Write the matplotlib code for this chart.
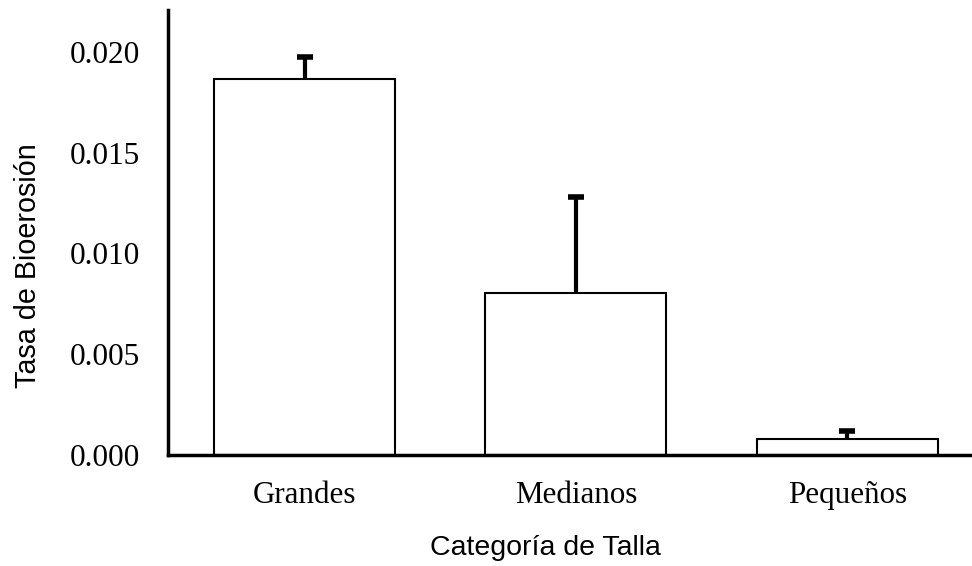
import matplotlib
matplotlib.use("Agg")
import matplotlib.pyplot as plt

categories = ["Grandes", "Medianos", "Pequeños"]
means = [0.01866, 0.00804, 0.00079]
upper_err = [0.00109, 0.00476, 0.00040]
y_ticks = [0.000, 0.005, 0.010, 0.015, 0.020]
y_tick_labels = ["0.000", "0.005", "0.010", "0.015", "0.020"]

W, H = 972, 566
AX_LEFT, AX_BOTTOM, AX_TOP = 168, 455, 10
fig = plt.figure(figsize=(W / 100, H / 100), dpi=100)
ax = fig.add_axes([AX_LEFT / W, (H - AX_BOTTOM) / H, (W - AX_LEFT) / W,
                   (AX_BOTTOM - AX_TOP) / H])

x = list(range(len(categories)))
ax.bar(x, means, width=0.667, color="white", edgecolor="black", linewidth=1.5,
       zorder=2)
_, caps, _ = ax.errorbar(x, means, yerr=[[0] * len(means), upper_err],
                         fmt="none", ecolor="black", elinewidth=3, capsize=6,
                         capthick=4, zorder=1)
# only the upper cap is shown
caps[0].set_visible(False)

ax.set_xlim(-0.503, 2.459)
ax.set_ylim(0, 0.02208)

ax.set_yticks(y_ticks)
ax.set_yticklabels(y_tick_labels, fontfamily="Liberation Serif", fontsize=22.5)
ax.set_xticks(x)
ax.set_xticklabels(categories, fontfamily="Liberation Serif", fontsize=22.3)
ax.tick_params(axis="both", length=0)
ax.tick_params(axis="y", pad=20)
ax.tick_params(axis="x", pad=19)

ax.set_xlabel("Categoría de Talla", fontfamily="Liberation Sans", fontsize=20.5,
              labelpad=18)
ax.xaxis.label.set_x((545 - AX_LEFT) / (W - AX_LEFT))
ax.set_ylabel("Tasa de Bioerosión", fontfamily="Liberation Sans", fontsize=20.7,
              labelpad=20)
ax.yaxis.label.set_y((AX_BOTTOM - 266) / (AX_BOTTOM - AX_TOP))

for side in ("top", "right"):
    ax.spines[side].set_visible(False)
for side in ("left", "bottom"):
    ax.spines[side].set_linewidth(2.5)

fig.savefig("out.png", dpi=100)
